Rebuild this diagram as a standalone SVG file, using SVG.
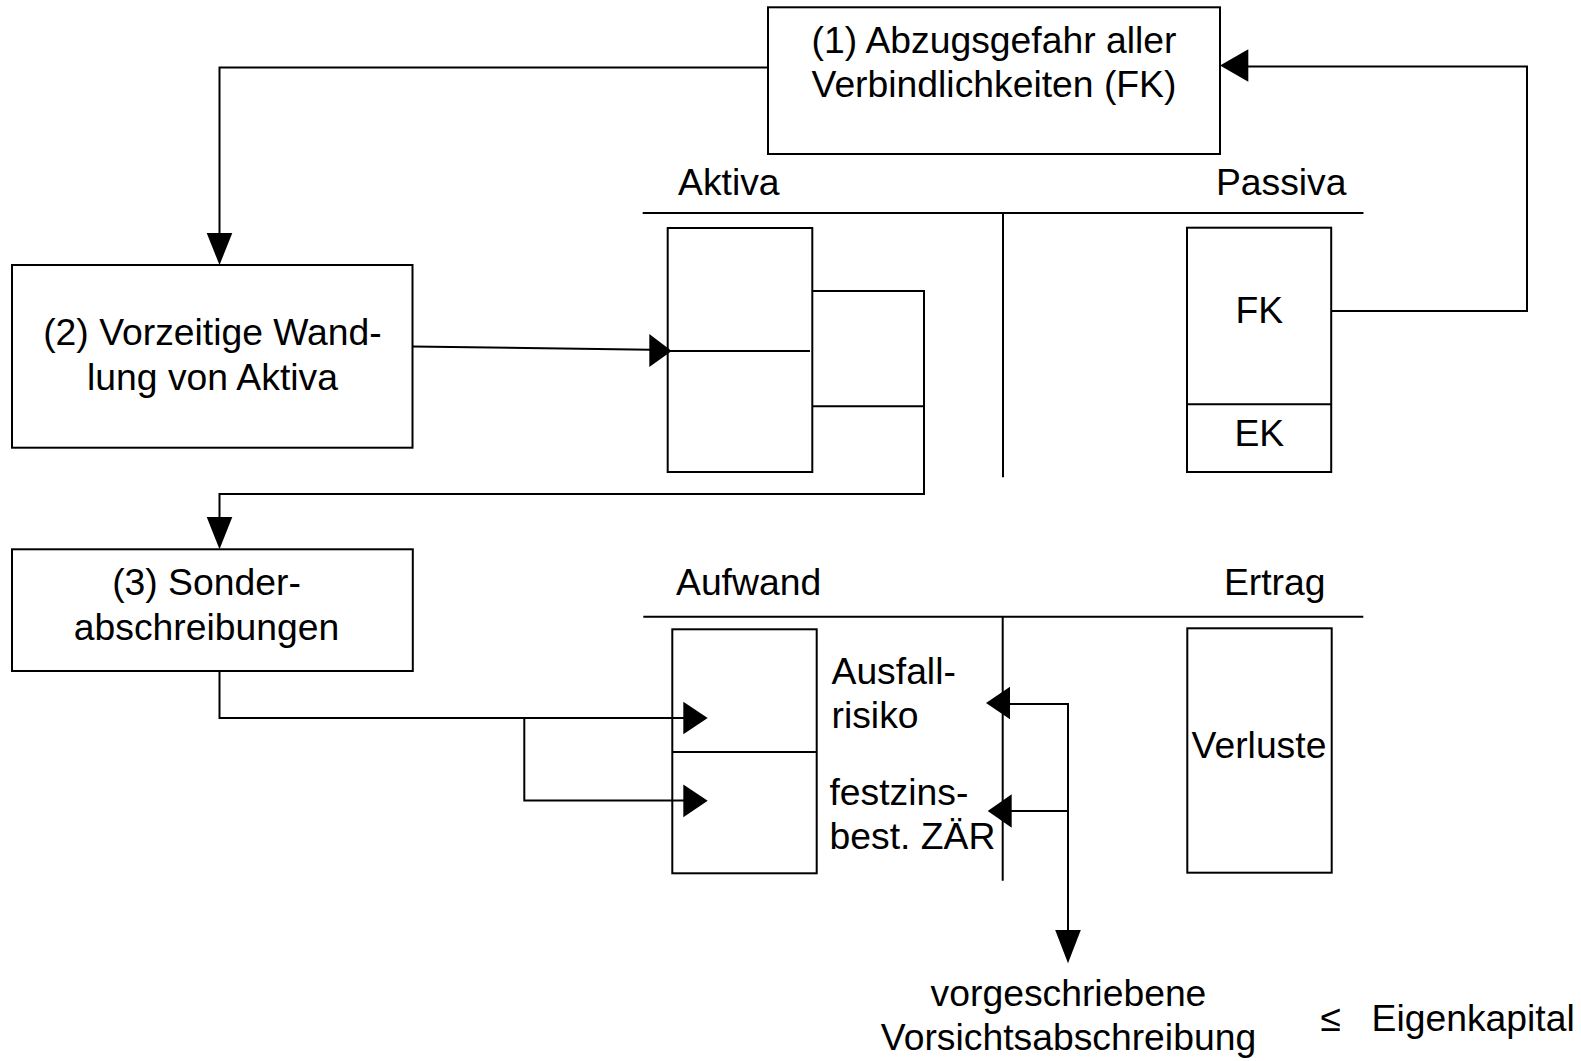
<svg xmlns="http://www.w3.org/2000/svg" width="1581" height="1061" viewBox="0 0 1581 1061">
<style>
  .box { fill: #ffffff; stroke: #000000; stroke-width: 2; }
  .ln { fill: none; stroke: #000000; stroke-width: 2; }
  .tl { fill: none; stroke: #000000; stroke-width: 2; }
  .ah { fill: #000000; stroke: none; }
  text { font-family: "Liberation Sans", Arial, sans-serif; font-size: 37.3px; fill: #000000; }
  .c { text-anchor: middle; }
  .e { text-anchor: end; }
</style>
<rect x="0" y="0" width="1581" height="1061" fill="#ffffff"/>

<g id="node-1">
  <rect class="box" x="768" y="7.3" width="452" height="146.7"/>
  <text class="c" x="994" y="52.5">(1) Abzugsgefahr aller</text>
  <text class="c" x="994" y="97">Verbindlichkeiten (FK)</text>
</g>

<g id="node-2">
  <rect class="box" x="12" y="265" width="400.5" height="182.7"/>
  <text class="c" x="212.5" y="345">(2) Vorzeitige Wand-</text>
  <text class="c" x="212.5" y="389.5">lung von Aktiva</text>
</g>

<g id="node-3">
  <rect class="box" x="12" y="549.3" width="400.8" height="121.7"/>
  <text class="c" x="206.5" y="595">(3) Sonder-</text>
  <text class="c" x="206.5" y="639.5">abschreibungen</text>
</g>

<g id="bilanz">
  <text x="678" y="195">Aktiva</text>
  <text class="e" x="1346.5" y="195">Passiva</text>
  <path class="tl" d="M642.7,213 H1363.5 M1003,213 V477.3"/>
</g>

<g id="aktiva-box">
  <rect class="box" x="667.7" y="228" width="144.6" height="244"/>
  <path class="ln" d="M667.7,351 H810"/>
</g>

<g id="passiva-box">
  <rect class="box" x="1187" y="227.7" width="144.2" height="244.3"/>
  <path class="ln" d="M1187,404.3 H1331.2"/>
  <text class="c" x="1259.3" y="323">FK</text>
  <text class="c" x="1259.3" y="446">EK</text>
</g>

<g id="guv">
  <text x="676" y="595">Aufwand</text>
  <text class="e" x="1325.5" y="595">Ertrag</text>
  <path class="tl" d="M643.3,616.7 H1363.3 M1002.7,616.7 V880.7"/>
</g>

<g id="aufwand-box">
  <rect class="box" x="672.3" y="629.3" width="144.4" height="244"/>
  <path class="ln" d="M672.3,752 H816.7"/>
</g>

<g id="aufwand-labels">
  <text x="831.5" y="683.5">Ausfall-</text>
  <text x="831.5" y="727.5">risiko</text>
  <text x="829.5" y="804.5">festzins-</text>
  <text x="829.5" y="848.5">best. ZÄR</text>
</g>

<g id="verluste">
  <rect class="box" x="1187.3" y="628.3" width="144.4" height="244.4"/>
  <text class="c" x="1259" y="757.5">Verluste</text>
</g>

<g id="vorsicht">
  <text class="c" x="1068.5" y="1006">vorgeschriebene</text>
  <text class="c" x="1068.5" y="1049.5">Vorsichtsabschreibung</text>
</g>

<g id="eigenkapital">
  <text x="1320.5" y="1030.5">≤</text>
  <text x="1371.5" y="1030.5">Eigenkapital</text>
</g>

<g id="connectors">
  <!-- (1) -> (2) -->
  <path class="ln" d="M768,67.5 H219.5 V234"/>
  <polygon class="ah" points="206.7,233 232.3,233 219.5,265"/>
  <!-- (2) -> Aktiva -->
  <path class="ln" d="M412,346.5 L651,349.8"/>
  <polygon class="ah" points="649.3,334 671.7,351 649.3,367"/>
  <!-- Aktiva bracket -> (3) -->
  <path class="ln" d="M812,291 H924 V494 H219.5 V518"/>
  <path class="ln" d="M812,406.3 H924"/>
  <polygon class="ah" points="206.7,517 232.3,517 219.5,549.3"/>
  <!-- (3) -> Aufwand -->
  <path class="ln" d="M219.5,671 V718 H685"/>
  <polygon class="ah" points="683.3,701.7 707.7,718 683.3,734.3"/>
  <path class="ln" d="M524.3,718 V800.5 H685"/>
  <polygon class="ah" points="683.3,784.5 707.7,800.8 683.3,817.2"/>
  <!-- FK -> (1) -->
  <path class="ln" d="M1331,311 H1527 V66.5 H1247"/>
  <polygon class="ah" points="1248.3,49.3 1220,65.5 1248.3,81.7"/>
  <!-- Ausfallrisiko / ZÄR -> Vorsichtsabschreibung -->
  <path class="ln" d="M1009,704 H1068 V931"/>
  <polygon class="ah" points="1010,686.7 986,703 1010,719.3"/>
  <path class="ln" d="M1010,811 H1068"/>
  <polygon class="ah" points="1011.7,794.3 987.7,811 1011.7,827.7"/>
  <polygon class="ah" points="1055.2,930 1080.8,930 1068,963.3"/>
</g>
</svg>
